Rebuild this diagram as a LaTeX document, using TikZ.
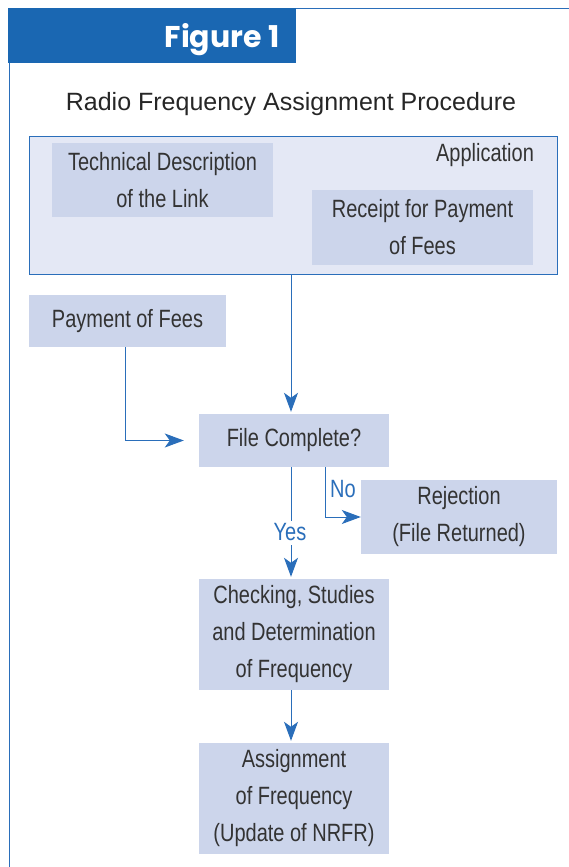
\documentclass[tikz,border=0pt]{standalone}
\usepackage{fontspec}
\setmainfont{Liberation Sans}
\newfontfamily\condfont[FakeStretch=0.8]{Liberation Sans}
\newfontfamily\figfont{Poppins}
\usetikzlibrary{arrows.meta,calc}
\definecolor{tabblue}{HTML}{1A67B2}
\definecolor{lineblue}{HTML}{2A6EBA}
\definecolor{boxfill}{HTML}{CCD5EB}
\definecolor{appfill}{HTML}{E4E8F5}
\definecolor{txt}{HTML}{333333}
\tikzset{
  box/.style={fill=boxfill, inner sep=0pt, align=center, text=txt,
    font=\condfont\fontsize{25}{37}\selectfont},
  lbl/.style={text=lineblue, inner sep=1pt, font=\condfont\fontsize{25}{30}\selectfont},
  conn/.style={draw=lineblue, line width=1pt},
  arr/.style={conn, -{Stealth[length=19pt,width=14pt,inset=5pt]}},
}
\begin{document}
\begin{tikzpicture}[x=1pt,y=-1pt]
\useasboundingbox (0,0) rectangle (569,867);
% frame
\draw[lineblue, line width=0.8pt] (9,867) -- (9,8) -- (569,8);
\fill[tabblue] (8,8) rectangle (296,63);
\node[text=white, font=\figfont\bfseries\fontsize{30}{30}\selectfont, inner sep=0pt] (fig) at (222,40) {Figure 1};
\node[text=black!85, font=\fontsize{25}{25}\selectfont, inner sep=0pt] (title) at (291,104) {Radio Frequency Assignment Procedure};
% application
\node[draw=lineblue, line width=0.8pt, fill=appfill, minimum width=528pt, minimum height=138pt, inner sep=0pt] (app) at (293,205) {};
\node[box, minimum width=221pt, minimum height=74pt] (tech) at (162.5,180) {Technical Description\\of the Link};
\node[box, minimum width=221pt, minimum height=75pt] (receipt) at (422.5,227.5) {Receipt for Payment\\of Fees};
\node[text=txt, font=\condfont\fontsize{25}{30}\selectfont, inner sep=0pt] (applbl) at (485,155) {Application};
% other boxes
\node[box, minimum width=197pt, minimum height=52pt] (pay) at (127.5,321) {Payment of Fees};
\node[box, minimum width=190pt, minimum height=53pt] (file) at (294,440.5) {File Complete?};
\node[box, minimum width=196pt, minimum height=74pt] (rej) at (459,517) {Rejection\\(File Returned)};
\node[box, minimum width=190pt, minimum height=111pt] (check) at (294,634.5) {Checking, Studies\\and Determination\\of Frequency};
\node[box, minimum width=190pt, minimum height=111pt] (assign) at (294,798.5) {Assignment\\of Frequency\\(Update of NRFR)};
% column coordinates
\coordinate (cx) at (291,0);
\coordinate (px) at (125,0);
\coordinate (nx) at (325,0);
\coordinate (yestop) at (291,521);
\coordinate (yesbot) at (291,545);
% connectors
\draw[arr, shorten >=2pt] (app.south -| cx) -- (file.north -| cx);
\draw[arr] (pay.south -| px) -- (file.west -| px) -- ([xshift=-15pt]file.west);
\draw[conn] (file.south -| cx) -- (yestop);
\node[lbl] (yes) at (290,532) {Yes};
\draw[arr, shorten >=2pt] (yesbot) -- (check.north -| cx);
\draw[arr] (file.south -| nx) -- (nx |- rej.west) -- (rej.west);
\node[lbl, anchor=west] (no) at (329,489) {No};
\draw[arr, shorten >=2pt] (check.south -| cx) -- (assign.north -| cx);
\end{tikzpicture}
\end{document}
